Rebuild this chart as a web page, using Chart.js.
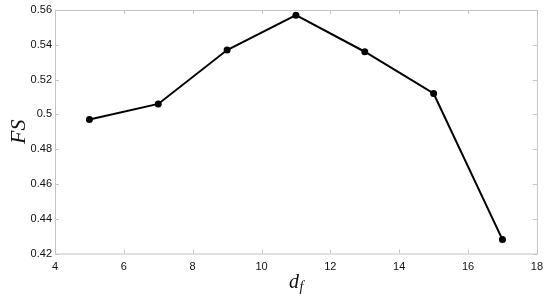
<!DOCTYPE html>
<html>
<head>
<meta charset="utf-8">
<script src="https://cdn.jsdelivr.net/npm/chart.js@4.4.0/dist/chart.umd.min.js"></script>
<style>
    html, body { margin: 0; padding: 0; background: #fff; }
    #wrap { width: 550px; height: 300px; }
</style>
</head>
<body>
<div id="wrap"><canvas id="myChart"></canvas></div>
<script>
'use strict'

const dfValues = [5, 7, 9, 11, 13, 15, 17]
const fsValues = [0.497, 0.506, 0.537, 0.557, 0.536, 0.512, 0.428]
const xTicks = [4, 6, 8, 10, 12, 14, 16, 18]
const yTicks = [0.42, 0.44, 0.46, 0.48, 0.5, 0.52, 0.54, 0.56]

const boxColor = '#c4c4c4'
const serif = '"Liberation Serif", "Times New Roman", serif'
const sans = '"Liberation Sans", Arial, sans-serif'

// box around the plot with inward ticks, and the d_f label
const boxPlugin = {
    id: 'boxPlugin',
    afterDraw(chart) {
        const ctx = chart.ctx
        const area = chart.chartArea
        const xs = chart.scales.x
        const ys = chart.scales.y
        const len = 4
        ctx.save()
        ctx.strokeStyle = boxColor
        ctx.lineWidth = 1
        ctx.strokeRect(area.left + 0.5, area.top + 0.5, area.right - area.left, area.bottom - area.top)
        ctx.beginPath()
        xTicks.forEach(v => {
            const px = Math.round(xs.getPixelForValue(v)) + 0.5
            ctx.moveTo(px, area.bottom)
            ctx.lineTo(px, area.bottom - len)
            ctx.moveTo(px, area.top)
            ctx.lineTo(px, area.top + len)
        })
        yTicks.forEach(v => {
            const py = Math.round(ys.getPixelForValue(v)) + 0.5
            ctx.moveTo(area.left, py)
            ctx.lineTo(area.left + len, py)
            ctx.moveTo(area.right, py)
            ctx.lineTo(area.right - len, py)
        })
        ctx.stroke()

        // x axis label with subscript
        const cx = (area.left + area.right) / 2
        ctx.fillStyle = '#111'
        ctx.textBaseline = 'alphabetic'
        ctx.textAlign = 'left'
        ctx.font = 'italic 20px ' + serif
        const dW = ctx.measureText('d').width
        ctx.font = 'italic 14px ' + serif
        const fW = ctx.measureText('f').width
        const startX = cx - (dW + fW) / 2
        ctx.font = 'italic 20px ' + serif
        ctx.fillText('d', startX, 288)
        ctx.font = 'italic 14px ' + serif
        ctx.fillText('f', startX + dW + 0.5, 291)
        ctx.restore()
    }
}

function Diagramm() {
    const ctx = document.getElementById('myChart').getContext('2d')
    const chart = new Chart(ctx, {
        type: 'line',
        data: {
            datasets: [{
                data: dfValues.map((d, i) => ({ x: d, y: fsValues[i] })),
                borderColor: '#000',
                backgroundColor: '#000',
                borderWidth: 2,
                pointRadius: 2.5,
                pointHoverRadius: 2.5,
                tension: 0
            }]
        },
        options: {
            responsive: true,
            maintainAspectRatio: false,
            animation: false,
            layout: { padding: { left: 0, right: 12, top: 10, bottom: 0 } },
            plugins: {
                legend: { display: false },
                tooltip: { enabled: false }
            },
            scales: {
                x: {
                    type: 'linear',
                    min: 4,
                    max: 18,
                    grid: { display: false, drawTicks: false },
                    border: { display: false },
                    afterBuildTicks: scale => { scale.ticks = xTicks.map(v => ({ value: v })) },
                    afterFit: scale => { scale.height = 46.5 },
                    ticks: {
                        padding: 7,
                        color: '#111',
                        font: { family: sans, size: 11 },
                        maxRotation: 0
                    }
                },
                y: {
                    type: 'linear',
                    min: 0.42,
                    max: 0.56,
                    grid: { display: false, drawTicks: false },
                    border: { display: false },
                    afterBuildTicks: scale => { scale.ticks = yTicks.map(v => ({ value: v })) },
                    afterFit: scale => { scale.width = 55 },
                    title: {
                        display: true,
                        text: 'FS',
                        color: '#111',
                        padding: { top: 6, bottom: 4 },
                        font: { family: serif, size: 22, style: 'italic' }
                    },
                    ticks: {
                        padding: 3,
                        color: '#111',
                        font: { family: sans, size: 11 },
                        callback: v => String(+v.toFixed(2))
                    }
                }
            }
        },
        plugins: [boxPlugin]
    })
    chart.update()
}

document.addEventListener('DOMContentLoaded', () => {
    Diagramm()
})
</script>
</body>
</html>
